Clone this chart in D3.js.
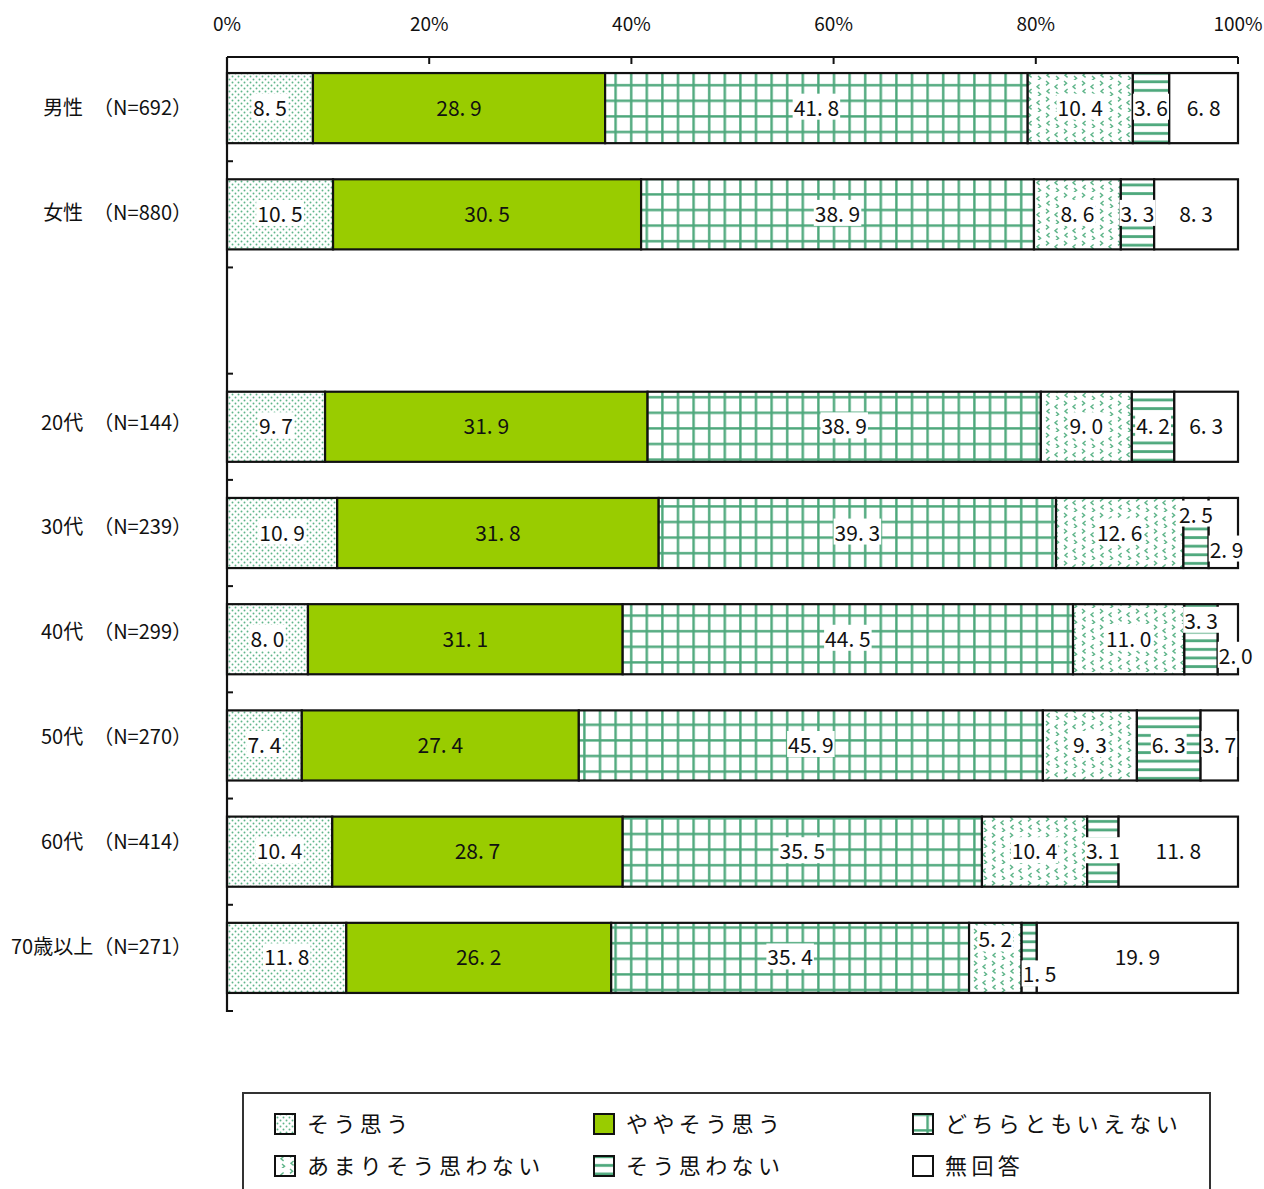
<!DOCTYPE html>
<html><head><meta charset="utf-8">
<script src="https://cdn.jsdelivr.net/npm/d3@7"></script>
<style>
body{margin:0;background:#fff}
text{font-family:"Noto Sans CJK JP","Noto Sans",sans-serif;fill:#111}
</style>
</head><body>
<svg id="c" width="1264" height="1189"></svg>
<script>
// ---- data ----
const categories = ["男性","女性","","20代","30代","40代","50代","60代","70歳以上"];
const rowLabels  = ["男性　（N=692）","女性　（N=880）","","20代　（N=144）","30代　（N=239）","40代　（N=299）","50代　（N=270）","60代　（N=414）","70歳以上（N=271）"];
const seriesNames = ["そう思う","ややそう思う","どちらともいえない","あまりそう思わない","そう思わない","無回答"];
const sSouOmou      = [8.5, 10.5, null, 9.7, 10.9, 8.0, 7.4, 10.4, 11.8];
const sYayaSouOmou  = [28.9, 30.5, null, 31.9, 31.8, 31.1, 27.4, 28.7, 26.2];
const sDochira      = [41.8, 38.9, null, 38.9, 39.3, 44.5, 45.9, 35.5, 35.4];
const sAmari        = [10.4, 8.6, null, 9.0, 12.6, 11.0, 9.3, 10.4, 5.2];
const sSouOmowanai  = [3.6, 3.3, null, 4.2, 2.5, 3.3, 6.3, 3.1, 1.5];
const sMukaitou     = [6.8, 8.3, null, 6.3, 2.9, 2.0, 3.7, 11.8, 19.9];
const tickLabels = ["0%","20%","40%","60%","80%","100%"];

const seriesValues = [sSouOmou, sYayaSouOmou, sDochira, sAmari, sSouOmowanai, sMukaitou];

// ---- build table ----
const table = categories.map((c, i) => {
  const o = {cat: c, label: rowLabels[i]};
  seriesNames.forEach((s, k) => o[s] = seriesValues[k][i]);
  return o;
});
const dataRows = table.filter(d => d[seriesNames[0]] != null);

const svg = d3.select("#c");
const defs = svg.append("defs");

// patterns
const pDots = defs.append("pattern").attr("id","p0").attr("patternUnits","userSpaceOnUse").attr("width",6).attr("height",6);
pDots.append("rect").attr("width",6).attr("height",6).attr("fill","#fff");
pDots.append("circle").attr("cx",1.5).attr("cy",1.5).attr("r",0.95).attr("fill","#5fb58a");
pDots.append("circle").attr("cx",4.5).attr("cy",4.5).attr("r",0.95).attr("fill","#5fb58a");

const pGrid = defs.append("pattern").attr("id","p2").attr("patternUnits","userSpaceOnUse").attr("width",15.6).attr("height",15.6);
pGrid.append("rect").attr("width",15.6).attr("height",15.6).attr("fill","#fff");
pGrid.append("rect").attr("x",6).attr("y",0).attr("width",2.4).attr("height",15.6).attr("fill","#4ea87c");
pGrid.append("rect").attr("x",0).attr("y",6).attr("width",15.6).attr("height",2.4).attr("fill","#4ea87c");

const pChev = defs.append("pattern").attr("id","p3").attr("patternUnits","userSpaceOnUse").attr("width",18).attr("height",16);
pChev.append("rect").attr("width",18).attr("height",16).attr("fill","#fff");
const chev = (x,y,dir) => dir>0 ? `M${x},${y} l2.6,2.2 l-2.6,2.2` : `M${x+2.6},${y} l-2.6,2.2 l2.6,2.2`;
pChev.append("path").attr("d", chev(2,1,1)+" "+chev(11,4.5,-1)+" "+chev(3,9,-1)+" "+chev(12,12,1))
  .attr("fill","none").attr("stroke","#5fb58a").attr("stroke-width",1.4);

const pStripe = defs.append("pattern").attr("id","p4").attr("patternUnits","userSpaceOnUse").attr("width",10).attr("height",8.6);
pStripe.append("rect").attr("width",10).attr("height",8.6).attr("fill","#fff");
pStripe.append("rect").attr("x",0).attr("y",3).attr("width",10).attr("height",2.8).attr("fill","#4ea87c");

const fills = ["url(#p0)","#99cc00","url(#p2)","url(#p3)","url(#p4)","#ffffff"];

// scales
const x = d3.scaleLinear().domain([0,1]).range([227,1238]);
const y = d3.scaleBand().domain(categories).range([55,1011]).paddingInner(0.34).paddingOuter(0.17);

const stack = d3.stack().keys(seriesNames).offset(d3.stackOffsetExpand);
const series = stack(dataRows);

// bars
const gBars = svg.append("g");
series.forEach((s, k) => {
  gBars.selectAll(null).data(s).join("rect")
    .attr("x", d => x(d[0]))
    .attr("y", d => y(d.data.cat))
    .attr("width", d => x(d[1]) - x(d[0]))
    .attr("height", y.bandwidth())
    .attr("fill", fills[k])
    .attr("stroke", "#111")
    .attr("stroke-width", 2.2);
});

// axes
const axisTop = y.range()[0] + 2;
svg.append("line").attr("x1", x(0)).attr("x2", x(1)).attr("y1", axisTop).attr("y2", axisTop).attr("stroke","#111").attr("stroke-width",2.2);
svg.append("line").attr("x1", x(0)).attr("x2", x(0)).attr("y1", axisTop).attr("y2", y.range()[1]+1).attr("stroke","#111").attr("stroke-width",2.2);
const tickVals = d3.range(tickLabels.length).map(i => i/(tickLabels.length-1));
svg.selectAll(".xt").data(tickVals).join("line")
  .attr("x1", d => x(d)).attr("x2", d => x(d)).attr("y1", axisTop).attr("y2", axisTop+7)
  .attr("stroke","#111").attr("stroke-width",2);
svg.selectAll(".xl").data(tickVals).join("text")
  .attr("x", d => x(d)).attr("y", 31).attr("text-anchor","middle")
  .attr("font-size", 19).text((d,i) => tickLabels[i]);

// left ticks at band boundaries
const step = y.step();
const bounds = categories.map((c, i) => y.range()[0] + step*(i+1));
svg.selectAll(".yt").data(bounds).join("line")
  .attr("x1", x(0)).attr("x2", x(0)+6).attr("y1", d => d).attr("y2", d => d)
  .attr("stroke","#111").attr("stroke-width",2);

// row labels
svg.selectAll(".rl").data(table.filter(d => d.label)).join("text")
  .attr("x", 192)
  .attr("y", (d) => y(d.cat) + y.bandwidth()/2 - categories.indexOf(d.cat)*1.4)
  .attr("dy","0.35em").attr("text-anchor","end").attr("font-size", 20)
  .text(d => d.label);

// value labels
const fmt = v => d3.format(".1f")(v).replace(".", ". ");
const gLab = svg.append("g");
dataRows.forEach((row, ri) => {
  const segs = series.map((s, k) => ({k, x0: x(s[ri][0]), x1: x(s[ri][1]), v: row[seriesNames[k]]}));
  const pos = segs.map(() => "mid");
  let last = -1;
  segs.forEach((s, k) => { if (s.x1 - s.x0 < 30) last = k; });
  if (last >= 0) { pos[last] = "down"; if (last > 0) pos[last-1] = "up"; }
  const cy = y(row.cat) + y.bandwidth()/2;
  segs.forEach((s, k) => {
    let tx = (s.x0 + s.x1)/2, ty = cy, anchor = "middle";
    if (pos[k] === "up") ty = cy - 18;
    if (pos[k] === "down") { ty = cy + 17; tx = s.x0 + 1; anchor = "start"; }
    const g = gLab.append("g");
    const bg = g.append("rect").attr("fill", k === 1 ? "none" : "#fff");
    const t = g.append("text").attr("x", tx).attr("y", ty).attr("dy","0.36em")
      .attr("text-anchor", anchor).attr("font-size", 21).text(fmt(s.v));
    const bb = t.node().getBBox();
    bg.attr("x", bb.x - 1).attr("y", bb.y + 2).attr("width", bb.width + 2).attr("height", bb.height - 4);
  });
});

// legend
const lg = svg.append("g");
lg.append("rect").attr("x", 243).attr("y", 1093).attr("width", 967).attr("height", 120)
  .attr("fill","#fff").attr("stroke","#333").attr("stroke-width",2);
const colX = [275, 594, 913], rowY = [1124, 1166];
seriesNames.forEach((name, k) => {
  const cx = colX[k % 3], cy = rowY[Math.floor(k / 3)];
  lg.append("rect").attr("x", cx).attr("y", cy - 10).attr("width", 20).attr("height", 20)
    .attr("fill", fills[k]).attr("stroke","#111").attr("stroke-width",2);
  lg.append("text").attr("x", cx + 32).attr("y", cy).attr("dy","0.36em")
    .attr("font-size", 22).attr("letter-spacing", 4.4).text(name);
});
</script>
</body></html>
